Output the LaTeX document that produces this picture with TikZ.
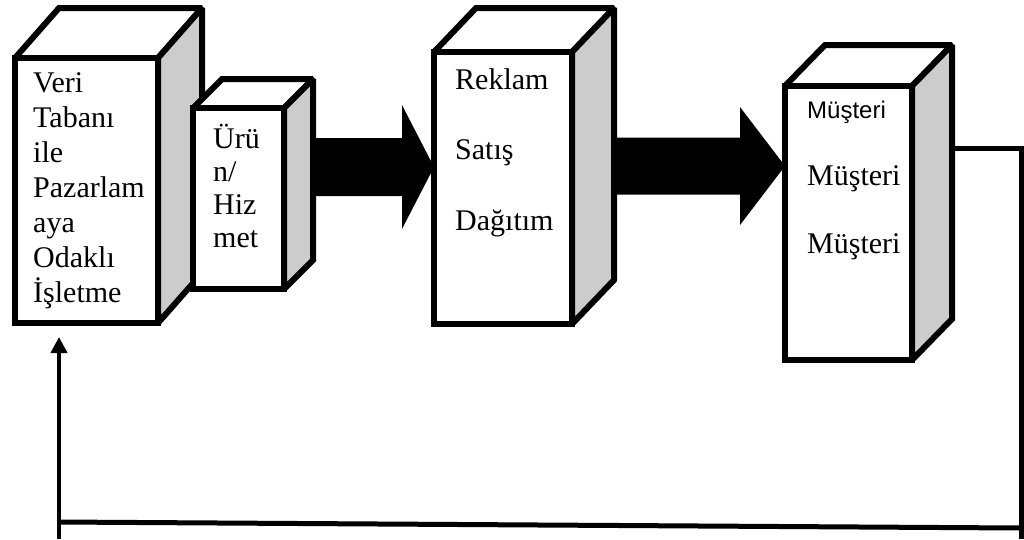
\documentclass[tikz,border=0pt]{standalone}
\usepackage{fontspec}
\setmainfont{Liberation Serif}
\newfontfamily\arialf{Liberation Sans}
\usetikzlibrary{calc,arrows.meta,backgrounds}
\definecolor{sidegray}{HTML}{CCCCCC}
\tikzset{
  front/.style={draw, line width=6pt, fill=white, inner sep=0pt, outer sep=0pt, anchor=north west, line join=miter},
  topface/.style={draw, line width=6pt, fill=white, line join=miter, miter limit=1.6},
  sideface/.style={draw, line width=6pt, fill=sidegray, line join=miter, miter limit=1.6},
  lbl/.style={inner sep=0pt, anchor=base west, font=\fontsize{30}{36}\selectfont},
  lblsans/.style={inner sep=0pt, anchor=base west, font=\arialf\fontsize{24}{28}\selectfont},
  fb/.style={line width=5pt, line join=miter},
  blk/.style={fill=black},
}
\newcommand\cuboid[7]{%
  \node[front, minimum width={(#4-#2)*1pt}, minimum height={(#5-#3)*1pt}] (#1) at (#2,#3) {};
  \draw[topface] (#1.north west) -- ++(#6,#7) -- ($(#1.north east)+(#6,#7)$) -- (#1.north east) -- cycle;
  \draw[sideface] (#1.north east) -- ++(#6,#7) -- ($(#1.south east)+(#6,#7)$) -- (#1.south east) -- cycle;
  \coordinate (#1-back) at ($(#1.south east)+(#6,#7)$);
  \node[front, minimum width={(#4-#2)*1pt}, minimum height={(#5-#3)*1pt}] at (#2,#3) {};
}
\newcommand\blockarrow[5]{%
  \fill[blk] let \p1=(#1), \p2=(#2) in
    (\x1,{\y2+#3}) -- ({\x2-#5},{\y2+#3}) -- ({\x2-#5},{\y2+#4}) -- (\p2)
    -- ({\x2-#5},{\y2-#4}) -- ({\x2-#5},{\y2-#3}) -- (\x1,{\y2-#3}) -- cycle;
}
\begin{document}
\begin{tikzpicture}[x=1pt,y=-1pt]
\useasboundingbox (0,0) rectangle (1024,539);
\begin{scope}[on background layer]
\fill[white] (0,0) rectangle (1024,539);
\end{scope}

\cuboid{b1}{15}{58}{158}{323}{44}{-50}
\cuboid{b2}{193}{108}{284}{289}{29}{-29}
\cuboid{b3}{434}{52}{572}{324}{42}{-44}
\cuboid{b4}{785}{86}{912}{360}{40}{-41}

% block arrows
\coordinate (a1s) at (313,167);
\coordinate (a1t) at (b3.west |- a1s);
\coordinate (a2s) at (614,166);
\coordinate (a2t) at (b4.west |- a2s);
\begin{scope}[on background layer]
\blockarrow{a1s}{a1t}{29pt}{62pt}{32pt}
\blockarrow{a2s}{a2t}{28.5pt}{59pt}{45pt}
\end{scope}

% labels
\foreach \t [count=\i] in {Veri,Tabanı,ile,Pazarlam,aya,Odaklı,İşletme}
  \node[lbl] (l1-\i) at (33,{92+35*(\i-1)}) {\t};
\foreach \t [count=\i] in {Ürü,n/,Hiz,met}
  \node[lbl] (l2-\i) at (213,{148+33.3*(\i-1)}) {\t};
\foreach \t [count=\i] in {Reklam,Satış,Dağıtım}
  \node[lbl] (l3-\i) at (455,{89+70.5*(\i-1)}) {\t};
\node[lblsans] (l4-1) at (807,118) {Müşteri};
\node[lbl] (l4-2) at (807,185) {Müşteri};
\node[lbl] (l4-3) at (807,253) {Müşteri};

% feedback loop
\coordinate (fb0) at (b4-back |- 0,148);
\coordinate (fbR) at (1021,148);
\coordinate (fbRb) at (1021,539);
\coordinate (fbBR) at (1021,528);
\coordinate (fbBL) at (59,522);
\coordinate (fbLb) at (59,539);
\coordinate (fbTip) at (59,337);
\draw[fb] (fb0) -- (fbR) -- (fbRb);
\draw[fb] (fbBR) -- (fbBL);
\draw[line width=4.5pt, -{Triangle[length=16pt,width=16pt]}] (fbLb) -- (fbTip);
\end{tikzpicture}
\end{document}
